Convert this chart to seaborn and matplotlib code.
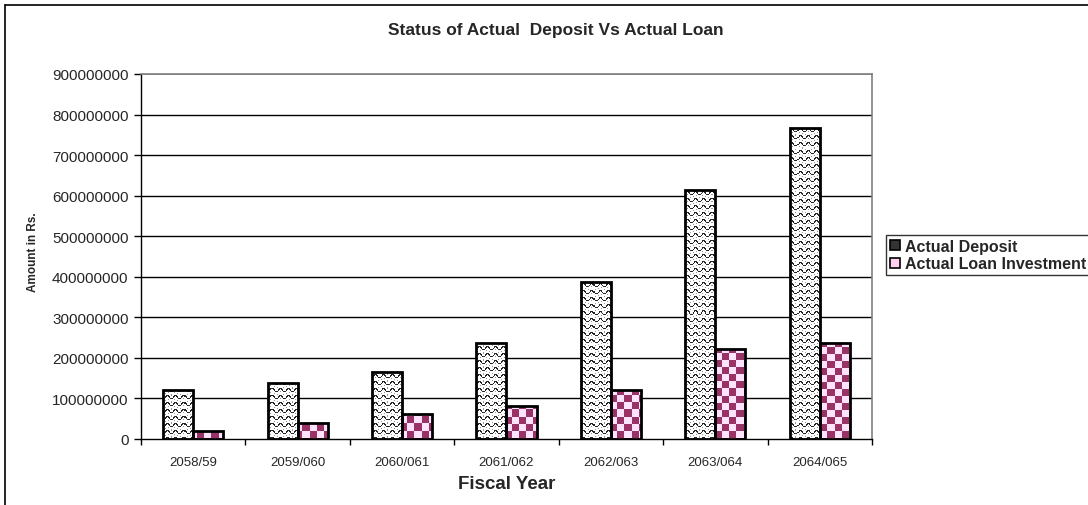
import numpy as np
import pandas as pd
import matplotlib
matplotlib.use("Agg")
import matplotlib.pyplot as plt
import seaborn as sns
from matplotlib.patches import Patch
from matplotlib.lines import Line2D
from matplotlib.ticker import FixedLocator, NullFormatter

# Fiscal years and amounts (Rs.)
fiscal_years = ["2058/59", "2059/060", "2060/061", "2061/062", "2062/063", "2063/064", "2064/065"]
actual_deposit = [120e6, 137e6, 164e6, 236e6, 387e6, 614e6, 768e6]
actual_loan = [20e6, 40e6, 62e6, 82e6, 121e6, 222e6, 236e6]
series_names = ["Actual Deposit", "Actual Loan Investment"]
y_ticks = [0, 100e6, 200e6, 300e6, 400e6, 500e6, 600e6, 700e6, 800e6, 900e6]

df = pd.DataFrame({
    "Fiscal Year": fiscal_years * 2,
    "Series": [series_names[0]] * len(fiscal_years) + [series_names[1]] * len(fiscal_years),
    "Amount": actual_deposit + actual_loan,
})

sns.set_theme(style="white")
plt.rcParams["font.family"] = ["Liberation Sans", "DejaVu Sans"]

W, H, DPI = 1088, 506, 100
fig = plt.figure(figsize=(W / DPI, H / DPI), dpi=DPI)
ax = fig.add_axes([141 / W, 1 - 440 / H, (872 - 141) / W, (440 - 75) / H])

sns.barplot(data=df, x="Fiscal Year", y="Amount", hue="Series",
            hue_order=series_names, order=fiscal_years,
            width=0.575, gap=0, dodge=True, legend=False,
            palette=["white", "white"], ax=ax)

ax.set_xlim(-0.5, len(fiscal_years) - 0.5)
ax.set_ylim(0, 900e6)

# Pixel textures for the bar fills
bbox = ax.get_window_extent()
pw, ph = int(round(bbox.width)), int(round(bbox.height))
yy, xx = np.mgrid[0:ph, 0:pw]

wave = np.ones((ph, pw, 3))
phase = (yy + 1.6 * np.sin(2 * np.pi * xx / 8.0)) % 7.0
wave[(phase < 1.3)] = [0.15, 0.15, 0.15]
dots = (np.abs(phase - 3.8) < 0.6) & (xx % 3 == 0)
wave[dots] = [0.6, 0.6, 0.6]

dark = np.array(matplotlib.colors.to_rgb("#993366"))
light = np.array(matplotlib.colors.to_rgb("#ffe2fb"))
cells = ((xx // 7) + (yy // 7)) % 2
checker = np.where(cells[..., None] == 1, dark, light)

textures = [wave, checker]
for container, tex in zip(ax.containers, textures):
    for bar in container:
        bar.set_facecolor("none")
        bar.set_edgecolor("black")
        bar.set_linewidth(2.0)
        bar.set_zorder(3)
        im = ax.imshow(tex, extent=(0, 1, 0, 1), transform=ax.transAxes,
                       interpolation="nearest", aspect="auto", zorder=2)
        im.set_clip_path(bar)

ax.set_xlim(-0.5, len(fiscal_years) - 0.5)
ax.set_ylim(0, 900e6)

# Axes styling
ax.set_yticks(y_ticks)
ax.set_yticklabels([f"{int(v)}" for v in y_ticks], fontsize=11)
ax.set_xticks(range(len(fiscal_years)))
ax.set_xticklabels(fiscal_years, fontsize=9.5)
ax.xaxis.set_minor_locator(FixedLocator(np.arange(-0.5, len(fiscal_years), 1.0)))
ax.xaxis.set_minor_formatter(NullFormatter())
ax.tick_params(axis="x", which="major", length=0, pad=12)
ax.tick_params(axis="x", which="minor", length=4, width=1, color="black", direction="out", bottom=True)
ax.tick_params(axis="y", which="major", length=5, width=1, color="black", direction="out", left=True, pad=4)
for yv in y_ticks[1:-1]:
    ax.axhline(yv, color="black", lw=1.0, zorder=1)
ax.axhline(y_ticks[-1], color="#808080", lw=1.2, zorder=1)

for side in ["left", "bottom"]:
    ax.spines[side].set_color("black")
    ax.spines[side].set_linewidth(1.0)
for side in ["top", "right"]:
    ax.spines[side].set_color("#808080")
    ax.spines[side].set_linewidth(1.2)

ax.set_xlabel("Fiscal Year", fontsize=13.5, fontweight="bold", labelpad=5)
ax.set_ylabel("Amount in Rs.", fontsize=8.5, fontweight="bold")
ax.yaxis.set_label_coords(39 / W, 1 - 252 / H, transform=fig.transFigure)

fig.text(556 / W, 1 - 31 / H, "Status of Actual  Deposit Vs Actual Loan",
         ha="center", va="center", fontsize=12.5, fontweight="bold")

# Legend
handles = [Patch(facecolor="#333333", edgecolor="black", linewidth=1.2),
           Patch(facecolor="#ffd0f0", edgecolor="black", linewidth=1.2)]
leg = fig.legend(handles, series_names, loc="upper left",
                 bbox_to_anchor=(886 / W, 1 - 236 / H),
                 prop={"weight": "bold", "size": 11.5}, frameon=True,
                 fancybox=False, edgecolor="black", handlelength=0.6,
                 handleheight=0.6, handletextpad=0.35, borderpad=0.25,
                 labelspacing=0.15, borderaxespad=0)
leg.get_frame().set_linewidth(1.0)

# Chart area border
fig.add_artist(Line2D([5 / W, 5 / W], [0, 1 - 6 / H], color="black", lw=1.2,
                      transform=fig.transFigure))
fig.add_artist(Line2D([5 / W, 1], [1 - 6 / H, 1 - 6 / H], color="black", lw=1.2,
                      transform=fig.transFigure))

fig.savefig("out.png", dpi=DPI)
